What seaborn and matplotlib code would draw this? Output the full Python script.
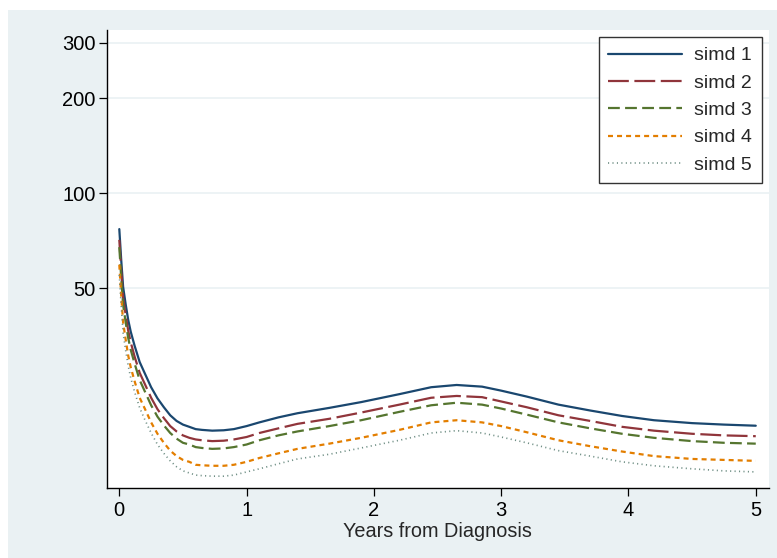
import matplotlib
matplotlib.use("Agg")
import matplotlib.pyplot as plt
from matplotlib.patches import Rectangle
from matplotlib.ticker import FixedLocator, FixedFormatter, NullLocator
import seaborn as sns
import pandas as pd

# Years from diagnosis at which the curves are evaluated
years = [0, 0.015, 0.03, 0.05, 0.07, 0.09, 0.12, 0.16, 0.2, 0.25, 0.3, 0.35,
         0.4, 0.45, 0.5, 0.55, 0.6, 0.65, 0.73, 0.82, 0.9, 1.0, 1.1, 1.25,
         1.4, 1.65, 1.9, 2.2, 2.45, 2.65, 2.85, 3.0, 3.2, 3.45, 3.7, 3.95,
         4.2, 4.5, 4.75, 5.0]

simd1 = [77, 61.5, 50.5, 44.5, 39.7, 36.4, 32.9, 29.2, 26.9, 24.3, 22.4, 21.0,
         19.8, 19.0, 18.5, 18.2, 17.9, 17.8, 17.7, 17.75, 17.9, 18.3, 18.8, 19.5,
         20.1, 20.9, 21.8, 23.1, 24.3, 24.7, 24.4, 23.7, 22.7, 21.4, 20.5, 19.7,
         19.1, 18.7, 18.5, 18.35]
simd2 = [71.2, 56.9, 46.7, 41.2, 36.7, 33.7, 30.4, 27.0, 24.9, 22.5, 20.7, 19.4,
         18.3, 17.6, 17.1, 16.8, 16.6, 16.5, 16.4, 16.45, 16.6, 16.9, 17.4, 18.0,
         18.6, 19.3, 20.2, 21.4, 22.5, 22.8, 22.6, 21.9, 21.0, 19.8, 19.0, 18.2,
         17.7, 17.3, 17.1, 17.0]
simd3 = [67.5, 53.9, 44.3, 39.0, 34.8, 31.9, 28.9, 25.6, 23.6, 21.3, 19.6, 18.4,
         17.4, 16.7, 16.2, 16.0, 15.7, 15.6, 15.5, 15.55, 15.7, 16.0, 16.5, 17.1,
         17.6, 18.3, 19.1, 20.3, 21.3, 21.7, 21.4, 20.8, 19.9, 18.8, 18.0, 17.3,
         16.8, 16.4, 16.2, 16.1]
simd4 = [59.4, 47.5, 39.0, 34.4, 30.6, 28.1, 25.4, 22.5, 20.8, 18.8, 17.3, 16.2,
         15.3, 14.7, 14.3, 14.1, 13.8, 13.75, 13.7, 13.7, 13.8, 14.1, 14.5, 15.0,
         15.5, 16.1, 16.8, 17.8, 18.8, 19.1, 18.8, 18.3, 17.5, 16.5, 15.8, 15.2,
         14.7, 14.4, 14.3, 14.2]
simd5 = [55.1, 44.0, 36.1, 31.8, 28.4, 26.0, 23.5, 20.9, 19.2, 17.4, 16.0, 15.0,
         14.2, 13.6, 13.2, 13.0, 12.8, 12.75, 12.7, 12.7, 12.8, 13.1, 13.4, 13.9,
         14.4, 14.9, 15.6, 16.5, 17.4, 17.7, 17.4, 16.9, 16.2, 15.3, 14.7, 14.1,
         13.7, 13.4, 13.2, 13.1]

series_names = ["simd 1", "simd 2", "simd 3", "simd 4", "simd 5"]
series_values = [simd1, simd2, simd3, simd4, simd5]

y_ticks = [50, 100, 200, 300]
y_tick_labels = ["50", "100", "200", "300"]
x_ticks = [0, 1, 2, 3, 4, 5]
x_label = "Years from Diagnosis"

colors = ["#1a476f", "#90353b", "#55752f", "#e37e00", "#6e8e84"]
dash_styles = ["", (15, 4), (8.5, 3.8), (3.6, 2.9), (0.8, 2.4)]
widths = [1.6, 1.6, 1.6, 1.6, 1.2]

sns.set_style("white")
plt.rcParams["font.family"] = ["Liberation Sans", "DejaVu Sans"]
plt.rcParams["lines.scale_dashes"] = False

W, H = 777, 558
fig = plt.figure(figsize=(W / 100, H / 100), dpi=100, facecolor="white")

# light graph region behind the plot area
fig.patches.append(Rectangle((8 / W, 0), 1 - 8 / W, (H - 10) / H,
                             transform=fig.transFigure, facecolor="#eaf1f3",
                             edgecolor="none", zorder=-10))

left, right, top, bottom = 106.7, 769, 30, 488
ax = fig.add_axes([left / W, (H - bottom) / H, (right - left) / W, (bottom - top) / H])
ax.set_zorder(5)
ax.set_facecolor("white")

frame = pd.DataFrame({
    "years": years * len(series_names),
    "rate": [v for vals in series_values for v in vals],
    "group": [n for n, vals in zip(series_names, series_values) for _ in vals],
})

for name, col, dash, lw in zip(series_names, colors, dash_styles, widths):
    sub = frame[frame["group"] == name]
    sns.lineplot(data=sub, x="years", y="rate", ax=ax, color=col, lw=lw,
                 estimator=None, sort=False, legend=False)
    line = ax.lines[-1]
    line.set_label(name)
    line.set_solid_joinstyle("round")
    if dash:
        line.set_dashes(dash)
        line.set_dash_capstyle("butt")

ax.set_yscale("log")
ax.set_ylim(11.65, 329)
ax.set_xlim(-0.099, 5.104)

ax.yaxis.set_major_locator(FixedLocator(y_ticks))
ax.yaxis.set_major_formatter(FixedFormatter(y_tick_labels))
ax.yaxis.set_minor_locator(NullLocator())
ax.set_xticks(x_ticks)
ax.set_xticklabels([str(t) for t in x_ticks])

for yv in y_ticks:
    ax.axhline(yv, color="#eaf1f3", lw=1.2, zorder=0)

for side in ["top", "right"]:
    ax.spines[side].set_visible(False)
for side in ["left", "bottom"]:
    ax.spines[side].set_color("black")
    ax.spines[side].set_linewidth(1.0)

ax.tick_params(axis="both", which="major", direction="out", length=6,
               width=0.9, color="black", labelsize=14.5, labelcolor="black",
               bottom=True, left=True)
ax.tick_params(axis="y", pad=2)
ax.tick_params(axis="x", pad=3)

ax.set_xlabel(x_label, fontsize=14.3, labelpad=2)
ax.set_ylabel("")

leg = ax.legend(loc="upper right",
                bbox_to_anchor=((762 - left) / (right - left), (bottom - 37) / (bottom - top)),
                borderaxespad=0, frameon=True, fancybox=False, fontsize=14,
                handlelength=3.8, handletextpad=0.62, labelspacing=0.5,
                borderpad=0.5)
leg.get_frame().set_edgecolor("#333333")
leg.get_frame().set_linewidth(1.0)
leg.get_frame().set_facecolor("white")
leg.get_frame().set_alpha(1)

fig.savefig("out.png", dpi=100, facecolor="white")
